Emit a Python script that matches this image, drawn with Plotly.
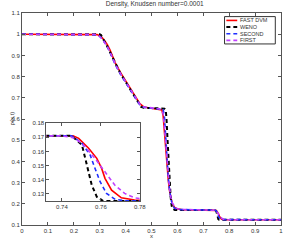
import plotly.graph_objects as go

# ---------------- data ----------------
fast_x = [0.0, 0.28, 0.29, 0.30, 0.31, 0.32, 0.33, 0.34, 0.35, 0.36, 0.38, 0.40, 0.42, 0.44, 0.455,
          0.47, 0.50, 0.53, 0.54, 0.545, 0.55, 0.555, 0.56, 0.565, 0.57, 0.575, 0.58, 0.59, 0.60,
          0.62, 0.70, 0.74, 0.7457, 0.7486, 0.7537, 0.7579, 0.7604, 0.7621, 0.7655, 0.7705,
          0.7773, 0.79, 1.0]
fast_y = [1.0, 1.0, 0.998, 0.993, 0.983, 0.968, 0.95, 0.925, 0.895, 0.865, 0.82, 0.78, 0.74,
          0.70, 0.672, 0.657, 0.652, 0.648, 0.643, 0.615, 0.53, 0.46, 0.38, 0.31, 0.26, 0.225,
          0.2, 0.182, 0.176, 0.172, 0.171, 0.171, 0.171, 0.1692, 0.1622, 0.1551, 0.148, 0.141,
          0.1327, 0.1273, 0.1257, 0.125, 0.125]

weno_x = [0.0, 0.29, 0.30, 0.305, 0.31, 0.32, 0.33, 0.34, 0.35, 0.36, 0.38, 0.40, 0.42, 0.44,
          0.455, 0.46, 0.47, 0.50, 0.53, 0.55, 0.555, 0.558, 0.562, 0.566, 0.57, 0.574, 0.578,
          0.582, 0.59, 0.70, 0.745, 0.7503, 0.752, 0.7536, 0.7553, 0.7579, 0.7612, 1.0]
weno_y = [1.0, 1.0, 1.0, 0.996, 0.982, 0.962, 0.94, 0.915, 0.89, 0.862, 0.815, 0.775, 0.735,
          0.695, 0.665, 0.657, 0.653, 0.652, 0.651, 0.649, 0.642, 0.6, 0.5, 0.4, 0.3, 0.23,
          0.19, 0.176, 0.171, 0.171, 0.171, 0.1645, 0.155, 0.1457, 0.1363, 0.128, 0.125, 0.125]

second_x = [0.0, 0.28, 0.29, 0.30, 0.31, 0.32, 0.33, 0.34, 0.35, 0.36, 0.38, 0.40, 0.42, 0.44,
            0.455, 0.47, 0.50, 0.53, 0.545, 0.55, 0.555, 0.56, 0.565, 0.57, 0.575, 0.58, 0.59,
            0.60, 0.70, 0.745, 0.7503, 0.7545, 0.757, 0.7596, 0.7629, 0.7671, 0.772, 1.0]
second_y = [1.0, 1.0, 0.997, 0.99, 0.978, 0.96, 0.94, 0.913, 0.885, 0.857, 0.812, 0.772, 0.732,
            0.692, 0.666, 0.655, 0.652, 0.65, 0.645, 0.61, 0.5, 0.4, 0.32, 0.26, 0.22, 0.195,
            0.178, 0.173, 0.171, 0.171, 0.1657, 0.1574, 0.148, 0.1386, 0.1304, 0.1264, 0.1252,
            0.125]

first_x = [0.0, 0.27, 0.28, 0.29, 0.30, 0.31, 0.32, 0.33, 0.34, 0.35, 0.36, 0.38, 0.40, 0.42,
           0.44, 0.455, 0.47, 0.50, 0.53, 0.54, 0.545, 0.55, 0.555, 0.56, 0.565, 0.57, 0.575,
           0.58, 0.59, 0.60, 0.62, 0.70, 0.74, 0.7457, 0.7503, 0.757, 0.762, 0.7671, 0.7722,
           0.7772, 0.785, 0.80, 1.0]
first_y = [1.0, 1.0, 0.999, 0.996, 0.989, 0.977, 0.96, 0.94, 0.915, 0.888, 0.86, 0.815, 0.775,
           0.735, 0.696, 0.67, 0.657, 0.652, 0.648, 0.642, 0.625, 0.56, 0.48, 0.4, 0.33, 0.27,
           0.23, 0.205, 0.185, 0.177, 0.173, 0.171, 0.171, 0.1697, 0.1657, 0.155, 0.1457,
           0.1363, 0.1304, 0.1273, 0.1258, 0.125, 0.125]

x_ticks = [0, 0.1, 0.2, 0.3, 0.4, 0.5, 0.6, 0.7, 0.8, 0.9, 1]
x_tick_labels = ["0", "0.1", "0.2", "0.3", "0.4", "0.5", "0.6", "0.7", "0.8", "0.9", "1"]
y_ticks = [0.1, 0.2, 0.3, 0.4, 0.5, 0.6, 0.7, 0.8, 0.9, 1.0, 1.1]
y_tick_labels = ["0.1", "0.2", "0.3", "0.4", "0.5", "0.6", "0.7", "0.8", "0.9", "1", "1.1"]
inset_x_ticks = [0.74, 0.76, 0.78]
inset_x_labels = ["0.74", "0.76", "0.78"]
inset_y_ticks = [0.13, 0.14, 0.15, 0.16, 0.17, 0.18]
inset_y_labels = ["0.13", "0.14", "0.15", "0.16", "0.17", "0.18"]

series_names = ["FAST DVM", "WENO", "SECOND", "FIRST"]
series_x = [fast_x, weno_x, second_x, first_x]
series_y = [fast_y, weno_y, second_y, first_y]
series_colors = ["#ff0000", "#000000", "#1f2fff", "#c040ff"]
series_dash = ["solid", "4px,3px", "4px,3px", "4px,3px"]
series_width = [1.6, 2, 1.6, 1.6]

# ---------------- figure ----------------
fig = go.Figure()
for ax, ay in (("x", "y"), ("x2", "y2")):
    for name, xs, ys, col, dash, w in zip(series_names, series_x, series_y,
                                           series_colors, series_dash, series_width):
        fig.add_trace(go.Scatter(x=xs, y=ys, mode="lines", name=name, showlegend=False,
                                 line=dict(color=col, dash=dash, width=w),
                                 xaxis=ax, yaxis=ay))

font = "Liberation Sans, Arial, sans-serif"
txtcol = "#333333"
axcol = "#555555"
common = dict(showline=True, mirror="ticks", linecolor=axcol, linewidth=1,
              ticks="inside", ticklen=3, tickcolor=axcol, showgrid=False,
              zeroline=False, tickfont=dict(size=6, color=txtcol, family=font))

# compact MATLAB-style legend box (layout decoration in paper coordinates)
leg_box = dict(x0=0.782, x1=0.978, y0=0.854, y1=0.983)
leg_rows = [0.965, 0.934, 0.902, 0.871]
leg_sample = (0.789, 0.831)
leg_text_x = 0.838

shapes = [dict(type="rect", xref="paper", yref="paper", layer="above",
               fillcolor="white", line=dict(color="#333333", width=1), **leg_box)]
annotations = []
for name, col, dash, w, ry in zip(series_names, series_colors, series_dash,
                                  series_width, leg_rows):
    shapes.append(dict(type="line", xref="paper", yref="paper", layer="above",
                       x0=leg_sample[0], x1=leg_sample[1], y0=ry, y1=ry,
                       line=dict(color=col, dash=dash, width=w)))
    annotations.append(dict(text=name, x=leg_text_x, y=ry, xref="paper", yref="paper",
                            xanchor="left", yanchor="middle", showarrow=False, borderpad=0,
                            font=dict(size=5.5, color=txtcol, family=font)))

annotations += [
    dict(text="ρ(x,t)", x=-0.06, y=0.505, xref="paper", yref="paper",
         textangle=-90, showarrow=False, font=dict(size=6, color=txtcol, family=font)),
    dict(text="x", x=0.5, y=-0.05, xref="paper", yref="paper", yanchor="middle",
         showarrow=False, borderpad=0, font=dict(size=6, color=txtcol, family=font)),
]

fig.update_layout(
    width=293, height=241,
    margin=dict(l=22, r=5, t=13, b=16),
    paper_bgcolor="white", plot_bgcolor="white",
    showlegend=False,
    title=dict(text="Density, Knudsen number=0.0001", x=0.528, xanchor="center",
               y=0.992, yanchor="top", font=dict(size=6.5, color=txtcol, family=font)),
    xaxis=dict(domain=[0, 1], range=[0, 1], tickvals=x_ticks, ticktext=x_tick_labels,
               anchor="y", **common),
    yaxis=dict(domain=[0, 1], range=[0.1, 1.1], tickvals=y_ticks, ticktext=y_tick_labels,
               anchor="x", **common),
    xaxis2=dict(domain=[0.094, 0.455], range=[0.732, 0.78], tickvals=inset_x_ticks,
                ticktext=inset_x_labels, anchor="y2", **common),
    yaxis2=dict(domain=[0.113, 0.481], range=[0.125, 0.18], tickvals=inset_y_ticks,
                ticktext=inset_y_labels, anchor="x2", **common),
    shapes=shapes,
    annotations=annotations,
)

fig.write_html("out.html", config={"displayModeBar": False},
               post_script="document.body.style.margin='0';document.body.style.overflow='hidden';")
